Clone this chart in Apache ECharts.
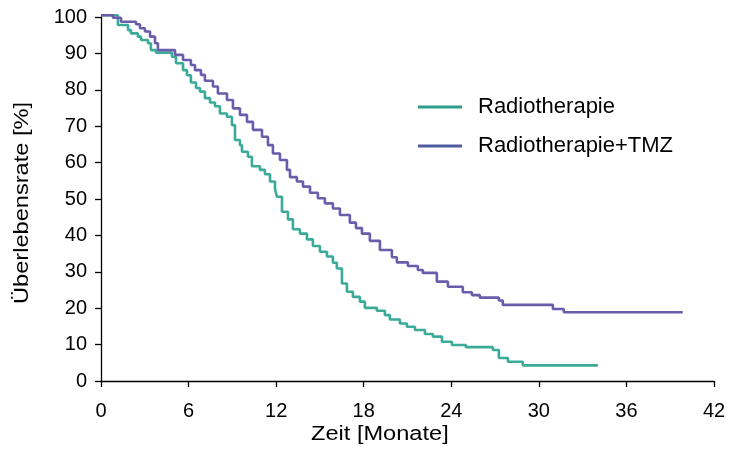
<!DOCTYPE html>
<html>
<head>
<meta charset="utf-8">
<script src="https://cdn.jsdelivr.net/npm/echarts@6/dist/echarts.min.js"></script>
<style>html,body{margin:0;padding:0;background:#fff}#c{width:731px;height:454px}</style>
</head>
<body>
<div id="c"></div>
<script>
const xTicks = [0, 6, 12, 18, 24, 30, 36, 42];
const yTicks = [0, 10, 20, 30, 40, 50, 60, 70, 80, 90, 100];
const seriesNames = ['Radiotherapie', 'Radiotherapie+TMZ'];

const rtTime = [0, 1.16, 1.85, 2.05, 2.53, 2.74, 3.22, 3.42, 3.77, 4.86, 5.14, 5.62, 5.89, 6.16, 6.51, 6.78, 7.12, 7.47, 7.81, 8.15, 8.63, 8.97, 9.18, 9.52, 9.66, 10.07, 10.34, 10.89, 11.23, 11.58, 11.92, 12.05, 12.40, 12.81, 13.15, 13.63, 14.11, 14.52, 15.0, 15.48, 15.89, 16.16, 16.51, 16.85, 17.26, 17.74, 18.08, 18.9, 19.45, 19.79, 20.48, 20.96, 21.51, 22.19, 22.74, 23.36, 24.04, 25.0, 26.85, 27.26, 27.88, 28.9, 34.04];
const rtSurv = [100.5, 97.8, 96.4, 95.5, 94.6, 93.7, 92.8, 90.9, 90.2, 89.1, 87.3, 85.4, 84.0, 82.0, 80.5, 79.5, 77.7, 76.5, 75.5, 73.5, 72.6, 70.3, 66.2, 64.8, 63.0, 61.6, 59.0, 58.0, 56.8, 54.8, 52.9, 50.6, 46.5, 44.4, 41.7, 40.5, 38.9, 37.1, 35.5, 34.2, 32.5, 30.9, 26.8, 24.5, 23.1, 21.8, 20.1, 19.3, 18.1, 16.9, 15.8, 14.9, 14.0, 12.9, 12.2, 10.8, 9.9, 9.3, 8.5, 6.3, 5.3, 4.3, 4.3];

const tmzTime = [0, 0.82, 1.37, 2.4, 2.67, 3.01, 3.36, 3.70, 3.90, 5.07, 5.62, 6.16, 6.44, 6.85, 7.12, 7.67, 8.01, 8.63, 9.04, 9.52, 10.0, 10.41, 11.03, 11.44, 11.78, 12.26, 12.74, 12.95, 13.42, 13.84, 14.32, 14.86, 15.34, 15.89, 16.37, 17.05, 17.47, 17.88, 18.42, 19.11, 19.93, 20.27, 21.03, 21.71, 22.05, 23.01, 23.77, 24.79, 25.41, 25.96, 27.26, 27.53, 30.96, 31.71, 39.86];
const tmzSurv = [100.5, 99.8, 98.7, 98.0, 96.9, 96.0, 94.6, 92.8, 90.9, 89.6, 88.2, 86.8, 85.4, 84.1, 82.5, 80.9, 79.0, 77.2, 74.9, 73.1, 71.2, 69.0, 67.1, 64.8, 62.5, 60.7, 58.0, 56.0, 54.8, 53.4, 51.7, 50.2, 48.8, 47.4, 45.6, 43.5, 42.0, 40.5, 38.5, 36.0, 34.0, 32.6, 31.6, 30.5, 29.7, 27.3, 25.9, 24.4, 23.6, 22.9, 22.1, 20.9, 19.8, 18.9, 18.9];

const font = 'Liberation Sans, Arial, sans-serif';
const zip = (a, b) => a.map((t, i) => [t, b[i]]);

const chart = echarts.init(document.getElementById('c'), null, {renderer: 'canvas'});
chart.setOption({
  animation: false,
  backgroundColor: '#ffffff',
  grid: {left: 101, right: 17, top: 17, bottom: 73, containLabel: false},
  legend: {
    orient: 'vertical',
    left: 418, top: 96, padding: 0,
    itemWidth: 44, itemHeight: 3,
    itemGap: 17,
    icon: 'rect',
    textStyle: {fontFamily: font, fontSize: 22, color: '#000', padding: [0, 0, 0, 11]},
    data: [
      {name: seriesNames[0], itemStyle: {color: '#2f9c8c'}},
      {name: seriesNames[1], itemStyle: {color: '#4f5a9e'}}
    ]
  },
  xAxis: {
    type: 'value', min: xTicks[0], max: xTicks[xTicks.length - 1], interval: 6,
    axisLine: {lineStyle: {color: '#000', width: 1.3}},
    axisTick: {length: 6, lineStyle: {color: '#000', width: 1.3}},
    axisLabel: {fontFamily: font, fontSize: 20, color: '#000', margin: 20},
    splitLine: {show: false}
  },
  yAxis: {
    type: 'value', min: yTicks[0], max: yTicks[yTicks.length - 1], interval: 10,
    axisLine: {show: true, lineStyle: {color: '#000', width: 1.3}},
    axisTick: {show: true, length: 6, lineStyle: {color: '#000', width: 1.3}},
    axisLabel: {fontFamily: font, fontSize: 20, color: '#000', margin: 14},
    splitLine: {show: false}
  },
  graphic: [
    {type: 'text', x: 311, y: 424, scaleX: 1.18, style: {text: 'Zeit [Monate]', font: '20px ' + font, fill: '#000'}},
    {type: 'text', x: 12, y: 304, rotation: Math.PI / 2, scaleX: 1.18, style: {text: 'Überlebensrate [%]', font: '20px ' + font, fill: '#000'}}
  ],
  series: [
    {
      name: seriesNames[0], type: 'line', step: 'end', symbol: 'none', clip: false,
      data: zip(rtTime, rtSurv),
      itemStyle: {color: '#2f9c8c'},
      lineStyle: {color: '#3aab98', width: 2.6}
    },
    {
      name: seriesNames[1], type: 'line', step: 'end', symbol: 'none', clip: false,
      data: zip(tmzTime, tmzSurv),
      itemStyle: {color: '#4f5a9e'},
      lineStyle: {color: '#6b5bab', width: 2.6}
    }
  ]
});
</script>
</body>
</html>
